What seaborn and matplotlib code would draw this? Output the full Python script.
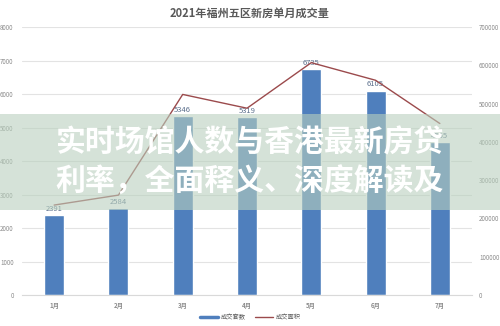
import matplotlib
matplotlib.use("Agg")
import matplotlib.pyplot as plt
import seaborn as sns
import numpy as np
import pandas as pd
from matplotlib.lines import Line2D
from matplotlib.patches import Rectangle

months = ["1月", "2月", "3月", "4月", "5月", "6月", "7月"]
units = [2391, 2584, 5346, 5319, 6735, 6105, 4565]
area = [235000, 261000, 524000, 488000, 607000, 561000, 448000]
left_ticks = [0, 1000, 2000, 3000, 4000, 5000, 6000, 7000, 8000]
right_ticks = [0, 100000, 200000, 300000, 400000, 500000, 600000, 700000]
title = "2021年福州五区新房单月成交量"
overlay_lines = ["实时场馆人数与香港最新房贷", "利率，全面释义、深度解读及"]
legend_labels = ["成交套数", "成交面积"]

sns.set_theme(style="white")
plt.rcParams['font.family'] = ['Noto Sans CJK SC', 'DejaVu Sans']

bar_color = "#4f7fbd"
line_color = "#9b4a4c"
tick_color = "#8c8c8c"

df = pd.DataFrame({"month": months, "units": units, "area": area})

fig = plt.figure(figsize=(5.0, 3.26), dpi=100)
ax = fig.add_axes([0.044, 0.095, 0.9, 0.822])
sns.barplot(data=df, x="month", y="units", color=bar_color, width=0.31,
            saturation=1, ax=ax, zorder=2)
ax.set_ylim(0, 8000)
ax.set_yticks(left_ticks)
ax.set_xlim(-0.5, len(months) - 0.5)
ax.grid(axis="y", color="#e3e3e3", linewidth=0.8, zorder=0)
ax.set_axisbelow(True)
for s in ["top", "right", "left"]:
    ax.spines[s].set_visible(False)
ax.spines["bottom"].set_color("#d9d9d9")
ax.spines["bottom"].set_linewidth(0.8)
ax.tick_params(axis="both", length=0, labelsize=4.5, colors=tick_color)
ax.tick_params(axis="y", pad=6)
ax.tick_params(axis="x", pad=5)
ax.set_xlabel("")
ax.set_ylabel("")
for lab in ax.get_xticklabels():
    lab.set_fontweight("bold")
ax.bar_label(ax.containers[0], labels=[str(v) for v in units], padding=1.5,
             fontsize=5.5, color="#5b6f8c")

ax2 = ax.twinx()
sns.lineplot(x=np.arange(len(months)), y=df["area"], color=line_color,
             linewidth=1.0, ax=ax2, zorder=3)
ax2.set_ylim(0, 700000)
ax2.set_yticks(right_ticks)
ax2.set_ylabel("")
for s in ["top", "right", "left", "bottom"]:
    ax2.spines[s].set_visible(False)
ax2.tick_params(axis="y", length=0, labelsize=4.5, colors=tick_color, pad=5)

fig.text(0.5, 0.958, title, ha="center", va="center", fontsize=8,
         fontweight="bold", color="#595959")

handles = [Line2D([0], [0], color=bar_color, linewidth=2.5),
           Line2D([0], [0], color=line_color, linewidth=1.0)]
fig.legend(handles, legend_labels, loc="center", bbox_to_anchor=(0.5, 0.027),
           ncol=2, frameon=False, fontsize=4.5, handlelength=3,
           columnspacing=1.5, handletextpad=0.3, labelcolor="#595959")

# overlay banner
fig.patches.append(Rectangle((0, 1 - 210 / 326), 1, 96 / 326,
                             transform=fig.transFigure, facecolor="#b9d0be",
                             alpha=0.6, edgecolor="none", zorder=5))
fig.text(0.5, 1 - 143 / 326, overlay_lines[0], ha="center", va="center",
         fontsize=21.5, fontweight="bold", color="white", zorder=6)
fig.text(0.5, 1 - 181 / 326, overlay_lines[1], ha="center", va="center",
         fontsize=21.5, fontweight="bold", color="white", zorder=6)

fig.savefig("out.png", dpi=100)
